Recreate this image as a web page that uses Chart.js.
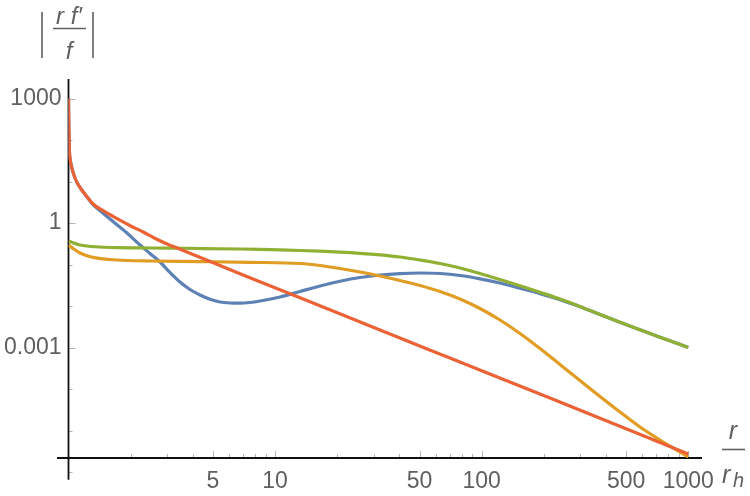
<!DOCTYPE html>
<html>
<head>
<meta charset="utf-8">
<script src="https://cdn.jsdelivr.net/npm/chart.js@4"></script>
<style>
html,body{margin:0;padding:0;background:#fff;}
#wrap{width:750px;height:496px;position:relative;}
</style>
</head>
<body>
<div id="wrap"><canvas id="c" width="750" height="496"></canvas></div>
<script>
// ---- data (r / r_h  vs  |r f'/f|) ----
const rRed = [1.0, 1.002, 1.005, 1.01, 1.02, 1.035, 1.055, 1.08, 1.11, 1.15, 1.2, 1.315, 1.45, 1.6, 1.8, 2.0, 2.3, 2.6, 3.0, 3.5, 4.35, 7.6, 13.3, 32.2, 70.2, 214, 1000];
const yRed = [1000, 400, 174, 57.4, 33, 22.4, 16.0, 11.5, 8.7, 6.6, 5.0, 2.87, 2.06, 1.56, 1.12, 0.847, 0.607, 0.435, 0.312, 0.23, 0.147, 0.0473, 0.0156, 0.00264, 0.000558, 0.0000607, 0.00000272];

const rBlue = [1.0, 1.002, 1.005, 1.01, 1.02, 1.035, 1.055, 1.08, 1.11, 1.15, 1.2, 1.315, 1.448, 1.588, 1.919, 2.219, 2.480, 2.773, 3.100, 3.465, 3.873, 4.330, 4.840, 5.411, 6.049, 6.762, 7.559, 8.450, 10.56, 13.20, 16.49, 20.61, 25.76, 32.19, 40.23, 50.27, 62.84, 78.52, 98.1, 122.6, 153.2, 191.5, 239.3, 299.1, 373.8, 467.0, 583.8, 729.5, 1000];
const yBlue = [1000, 400, 174, 57.4, 33, 22.4, 16.0, 11.5, 8.7, 6.6, 5.0, 2.78, 1.84, 1.248, 0.574, 0.295, 0.1841, 0.1149, 0.0642, 0.0379, 0.02497, 0.0184, 0.0145, 0.01249, 0.01181, 0.01168, 0.01215, 0.0132, 0.0165, 0.02236, 0.0303, 0.0394, 0.0486, 0.0558, 0.0604, 0.0624, 0.0607, 0.0543, 0.0452, 0.0358, 0.0268, 0.0199, 0.01426, 0.00962, 0.00621, 0.00405, 0.00267, 0.00177, 0.001];

const rGreen = [1.0, 1.137, 1.42, 1.78, 2.49, 4.33, 6.762, 8.450, 10.56, 13.20, 16.49, 20.61, 25.76, 32.19, 40.23, 50.27, 62.84, 78.52, 98.1, 122.6, 153.2, 191.5, 239.3, 299.1, 373.8, 467.0, 583.8, 729.5, 1000];
const yGreen = [0.368, 0.295, 0.264, 0.254, 0.2497, 0.243, 0.2362, 0.2312, 0.2248, 0.2175, 0.2091, 0.1990, 0.1862, 0.1703, 0.1516, 0.1283, 0.1057, 0.0823, 0.0607, 0.0435, 0.0307, 0.02138, 0.01475, 0.00973, 0.00624, 0.00405, 0.00267, 0.00177, 0.001];

const rOrange = [1.0, 1.06, 1.137, 1.22, 1.315, 1.59, 1.92, 2.49, 4.33, 7.56, 13.20, 16.49, 20.61, 25.76, 32.19, 40.23, 50.27, 62.84, 78.52, 98.1, 122.6, 153.2, 191.5, 239.3, 299.1, 373.8, 467.0, 583.8, 729.5, 1000];
const yOrange = [0.295, 0.236, 0.189, 0.165, 0.148, 0.132, 0.125, 0.1215, 0.1175, 0.113, 0.1057, 0.0946, 0.0801, 0.0660, 0.0528, 0.0412, 0.0312, 0.02236, 0.01475, 0.00871, 0.0046, 0.002175, 0.000946, 0.000390, 0.000160, 0.000066, 0.0000279, 0.00001214, 0.0000059, 0.0000023];

// ---- ticks ----
const xTickValues = [2,3,4,5,6,7,8,9,10,20,30,40,50,60,70,80,90,100,200,300,400,500,600,700,800,900,1000];
const xTickText   = ['','','','5','','','','','10','','','','50','','','','','100','','','','500','','','','','1000'];
const yTickValues = [1e-5,1e-4,1e-3,1e-2,1e-1,1,10,100,1000];
const yTickText   = ['','','0.001','','','1','','','1000'];
const yExtraTicks = [1e-6];

const colBlue = '#5E81B5', colOrange = '#E19C24', colGreen = '#8FB032', colRed = '#EB6235';
const labelColor = '#606060';

function pts(rs, ys){ return rs.map((r,i)=>({x:r, y:ys[i]})); }

const axesPlugin = {
  id: 'mmaAxes',
  beforeDatasetsDraw(chart){
    const ctx = chart.ctx, a = chart.chartArea;
    const xs = chart.scales.x, ys = chart.scales.y;
    const x0 = xs.getPixelForValue(1);
    ctx.save();
    ctx.strokeStyle = '#b4b4b4';
    ctx.lineWidth = 1;
    xTickValues.forEach((v,i)=>{
      const px = Math.round(xs.getPixelForValue(v)) + 0.5;
      const len = xTickText[i] ? 7 : 4;
      ctx.beginPath(); ctx.moveTo(px, a.bottom); ctx.lineTo(px, a.bottom - len); ctx.stroke();
    });
    yTickValues.concat(yExtraTicks).forEach((v,i)=>{
      const py = Math.round(ys.getPixelForValue(v)) + 0.5;
      const len = (yTickText[i]) ? 7 : 4;
      ctx.beginPath(); ctx.moveTo(x0, py); ctx.lineTo(x0 + len, py); ctx.stroke();
    });
    ctx.strokeStyle = '#111';
    ctx.lineWidth = 1.8;
    ctx.beginPath();
    ctx.moveTo(xs.getPixelForValue(0.88), a.bottom);
    ctx.lineTo(a.right, a.bottom);
    ctx.stroke();
    ctx.beginPath();
    ctx.moveTo(x0, a.top);
    ctx.lineTo(x0, ys.getPixelForValue(6.5e-7));
    ctx.stroke();
    ctx.restore();
  },
  afterDraw(chart){
    const ctx = chart.ctx;
    ctx.save();
    ctx.fillStyle = labelColor;
    ctx.strokeStyle = labelColor;
    ctx.lineWidth = 1.6;
    ctx.textAlign = 'center';
    ctx.textBaseline = 'alphabetic';
    // y title: | r f' / f |
    ctx.font = 'italic 24px "Liberation Sans", Arial, sans-serif';
    ctx.fillText('r f\u2032', 69, 24);
    ctx.fillText('f', 69, 59);
    ctx.beginPath(); ctx.moveTo(53, 28.5); ctx.lineTo(86, 28.5); ctx.stroke();
    ctx.beginPath(); ctx.moveTo(42, 12); ctx.lineTo(42, 58); ctx.stroke();
    ctx.beginPath(); ctx.moveTo(93, 12); ctx.lineTo(93, 58); ctx.stroke();
    // x title: r / r_h
    ctx.font = 'italic 25px "Liberation Sans", Arial, sans-serif';
    ctx.fillText('r', 733, 439);
    ctx.beginPath(); ctx.moveTo(722, 449.5); ctx.lineTo(745, 449.5); ctx.stroke();
    ctx.textAlign = 'left';
    ctx.fillText('r', 722, 483);
    ctx.font = 'italic 20px "Liberation Sans", Arial, sans-serif';
    ctx.fillText('h', 733, 487);
    ctx.restore();
  }
};

const tickFont = {family: '"Liberation Sans", Arial, sans-serif', size: 23};

new Chart(document.getElementById('c'), {
  type: 'line',
  data: {
    datasets: [
      {label:'red', data: pts(rRed, yRed), borderColor: colRed, order: 1},
      {label:'green', data: pts(rGreen, yGreen), borderColor: colGreen, order: 2},
      {label:'orange', data: pts(rOrange, yOrange), borderColor: colOrange, order: 3},
      {label:'blue', data: pts(rBlue, yBlue), borderColor: colBlue, order: 4}
    ].map(d => Object.assign(d, {borderWidth: 3.2, pointRadius: 0, fill: false, cubicInterpolationMode: 'monotone', borderCapStyle: 'butt', borderJoinStyle: 'round'}))
  },
  options: {
    responsive: false,
    devicePixelRatio: 1,
    animation: false,
    layout: {padding: {top: 79, right: 48, bottom: 0, left: 0}},
    plugins: {legend: {display: false}, tooltip: {enabled: false}},
    scales: {
      x: {
        type: 'logarithmic',
        min: 1, max: 1165,
        grid: {display: false, drawTicks: false},
        border: {display: false},
        afterBuildTicks: s => { s.ticks = xTickValues.map(v => ({value: v})); },
        afterFit: s => { s.height = 38; },
        ticks: {autoSkip: false, maxRotation: 0, minRotation: 0, padding: 10, color: labelColor, font: tickFont,
          callback: (v, i) => xTickText[i]}
      },
      y: {
        type: 'logarithmic',
        min: 2.175e-6, max: 2951,
        grid: {display: false, drawTicks: false},
        border: {display: false},
        afterBuildTicks: s => { s.ticks = yTickValues.map(v => ({value: v})); },
        afterFit: s => { s.width = 68.5; },
        ticks: {autoSkip: false, padding: 7, color: labelColor, font: tickFont,
          callback: (v, i) => yTickText[i]}
      }
    }
  },
  plugins: [axesPlugin]
});
</script>
</body>
</html>
